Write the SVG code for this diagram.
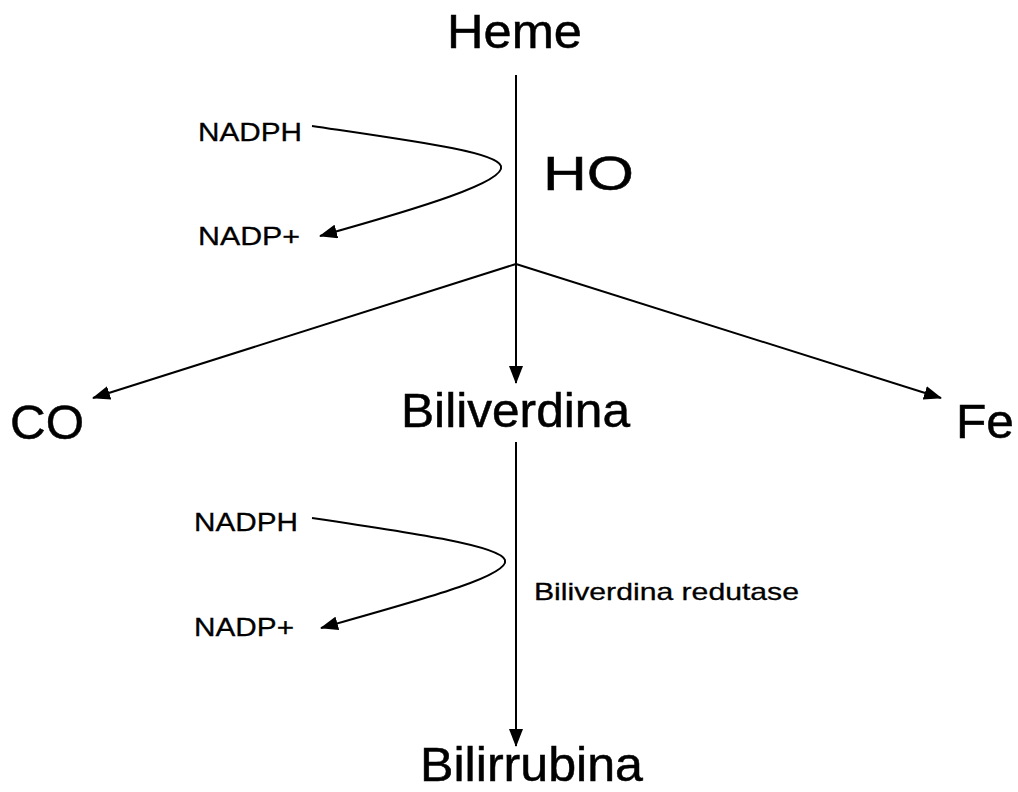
<svg xmlns="http://www.w3.org/2000/svg" width="1018" height="792" viewBox="0 0 1018 792">
<style>
.t{font-family:"Liberation Sans",Arial,sans-serif;fill:#000;stroke:#000;stroke-width:0.5}
.big{font-size:48px}
.sm{font-size:26px;stroke-width:0.3}
.md{font-size:24px;stroke-width:0.3}
.c{fill:none;stroke:#000;stroke-width:2}
</style>
<defs>
<marker id="ah" viewBox="0 0 18 14" refX="17" refY="7" markerWidth="18" markerHeight="14" markerUnits="userSpaceOnUse" orient="auto">
<path d="M0,0 L18,7 L0,14 z" fill="#000"/>
</marker>
</defs>
<rect width="1018" height="792" fill="#fff"/>
<g id="connectors">
<path class="c" d="M516,75 V383" marker-end="url(#ah)"/>
<path class="c" d="M516,264 L93,398" marker-end="url(#ah)"/>
<path class="c" d="M516,264 L941,398" marker-end="url(#ah)"/>
<path class="c" d="M516,442 V746" marker-end="url(#ah)"/>
<path class="c" d="M312,126 C420,142 496,152 501,166 C506,182 420,208 320,236" marker-end="url(#ah)"/>
<path class="c" d="M312,518 C420,534 500,546 505,560 C510,576 420,600 321,628" marker-end="url(#ah)"/>
</g>
<g id="heme"><text class="t big" x="447" y="48" textLength="135" lengthAdjust="spacingAndGlyphs">Heme</text></g>
<g id="ho"><text class="t big" x="543" y="190" textLength="91" lengthAdjust="spacingAndGlyphs">HO</text></g>
<g id="nadph1"><text class="t sm" x="198" y="141" textLength="104" lengthAdjust="spacingAndGlyphs">NADPH</text></g>
<g id="nadp1"><text class="t sm" x="198" y="245" textLength="102" lengthAdjust="spacingAndGlyphs">NADP+</text></g>
<g id="co"><text class="t big" x="10" y="439" textLength="74" lengthAdjust="spacingAndGlyphs">CO</text></g>
<g id="biliverdina"><text class="t big" x="401" y="427" textLength="229" lengthAdjust="spacingAndGlyphs">Biliverdina</text></g>
<g id="fe"><text class="t big" x="956" y="438" textLength="58" lengthAdjust="spacingAndGlyphs">Fe</text></g>
<g id="nadph2"><text class="t sm" x="194" y="531" textLength="104" lengthAdjust="spacingAndGlyphs">NADPH</text></g>
<g id="nadp2"><text class="t sm" x="194" y="636" textLength="100" lengthAdjust="spacingAndGlyphs">NADP+</text></g>
<g id="redutase"><text class="t md" x="534" y="600" textLength="265" lengthAdjust="spacingAndGlyphs">Biliverdina redutase</text></g>
<g id="bilirrubina"><text class="t big" x="420" y="781" textLength="223" lengthAdjust="spacingAndGlyphs">Bilirrubina</text></g>
</svg>
